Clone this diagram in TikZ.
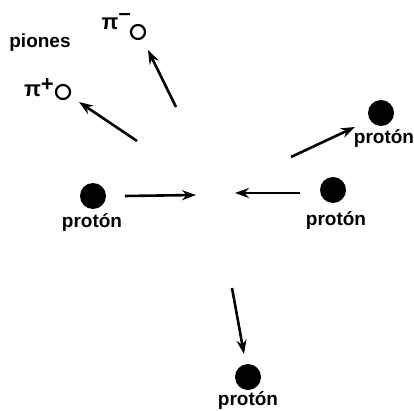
\documentclass[tikz,border=0pt]{standalone}
\usepackage{fontspec}
\setmainfont{Liberation Sans}
\usetikzlibrary{arrows.meta}

\begin{document}
\begin{tikzpicture}[x=1pt,y=-1pt,
font=\fontsize{19}{22}\selectfont\bfseries,
proton/.style={circle,fill=black,inner sep=0pt,minimum size=26pt},
pion/.style={circle,draw=black,line width=2.2pt,inner sep=0pt,minimum size=14pt},
lbl/.style={inner sep=0pt},
plbl/.style={lbl,anchor=east,font=\fontsize{22}{24}\selectfont\bfseries},
arr/.style={-{Stealth[length=14pt,width=10pt]},line width=2.6pt}
]
\useasboundingbox (0,0) rectangle (414,411);
% particles
\node[proton] (pl) at (93,196) {};
\node[proton] (pr) at (333,190) {};
\node[proton] (pu) at (381,113) {};
\node[proton] (pd) at (248,377) {};
\node[pion] (pim) at (138,32) {};
\node[pion] (pip) at (63,92) {};
% labels
\node[lbl] (lpl) at (92,223) {protón};
\node[lbl] (lpr) at (336,221) {protón};
\node[lbl] (lpu) at (384,139) {protón};
\node[lbl] (lpd) at (248,401) {protón};
\node[lbl] (piones) at (40,43) {piones};
\node[plbl] (lpim) at (131,22) {π\raisebox{9pt}{–}};
\node[plbl] (lpip) at (54,88) {π\raisebox{5pt}{+}};
% arrow ends
\coordinate (a1) at (125,196);
\coordinate (b1) at (196,195);
\coordinate (a2) at (300,193);
\coordinate (b2) at (235,193);
\coordinate (a3) at (291,157);
\coordinate (b3) at (355,127);
\coordinate (a4) at (232,288);
\coordinate (b4) at (244,354);
\coordinate (a5) at (176,107);
\coordinate (b5) at (148,50);
\coordinate (a6) at (137,141);
\coordinate (b6) at (79,102);
\draw[arr] (a1)--(b1);
\draw[arr] (a2)--(b2);
\draw[arr] (a3)--(b3);
\draw[arr] (a4)--(b4);
\draw[arr] (a5)--(b5);
\draw[arr] (a6)--(b6);
\end{tikzpicture}
\end{document}
